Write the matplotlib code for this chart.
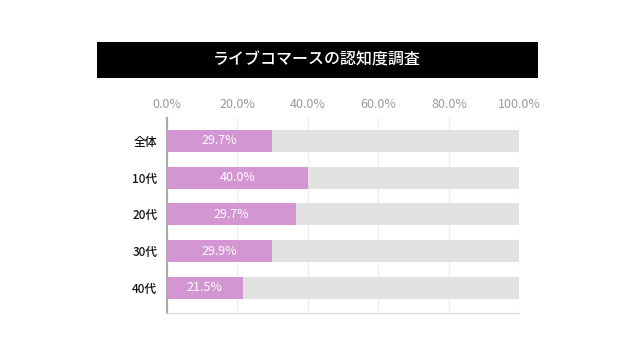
import matplotlib
matplotlib.use("Agg")
import matplotlib.pyplot as plt
from matplotlib.patches import Rectangle
from matplotlib.ticker import FuncFormatter

plt.rcParams['font.family'] = ['Noto Sans CJK JP', 'DejaVu Sans']

# data
title = "ライブコマースの認知度調査"
categories = ["全体", "10代", "20代", "30代", "40代"]
# bar lengths as drawn (20代 bar is drawn longer than its label says)
bar_values = [29.7, 40.0, 36.6, 29.9, 21.5]
bar_labels = ["29.7%", "40.0%", "29.7%", "29.9%", "21.5%"]
full_scale = [100, 100, 100, 100, 100]
x_ticks = [0, 20, 40, 60, 80, 100]

PINK = "#D396D3"
TRACK = "#E2E2E2"

fig = plt.figure(figsize=(6.4, 3.6), dpi=100)

# black title band
fig.add_artist(Rectangle((0.1516, 0.7833), 0.689, 0.1, transform=fig.transFigure,
                         facecolor="black", edgecolor="none"))
fig.text(0.4953, 0.8333, title, color="white", fontsize=11.5, fontweight="medium",
         ha="center", va="center")

ax = fig.add_axes([0.2609, 0.1306, 0.5505, 0.5417])
ypos = list(range(len(categories)))

ax.barh(ypos, full_scale, height=0.6, color=TRACK, zorder=2)
ax.barh(ypos, bar_values, height=0.6, color=PINK, zorder=3)
for y, v, lab in zip(ypos, bar_values, bar_labels):
    ax.text(v / 2, y, lab, color="white", fontsize=9, ha="center", va="center", zorder=4)

ax.set_xlim(0, 100)
ax.set_ylim(4.68, -0.62)
ax.set_yticks(ypos)
ax.set_yticklabels(categories, fontsize=8.5, color="#111111", fontweight="medium")
ax.set_xticks(x_ticks)
ax.xaxis.set_major_formatter(FuncFormatter(lambda v, p: f"{v:.1f}%"))
ax.xaxis.tick_top()
ax.tick_params(axis="x", length=0, pad=5, labelsize=9, labelcolor="#9a9a9a")
ax.tick_params(axis="y", length=0, pad=7)
ax.grid(axis="x", color="#EEEEEE", linewidth=1, zorder=1)

for s in ["top", "right"]:
    ax.spines[s].set_visible(False)
ax.spines["left"].set_color("#AAAAAA")
ax.spines["left"].set_linewidth(1.5)
ax.spines["bottom"].set_color("#DDDDDD")
ax.spines["bottom"].set_linewidth(1)

fig.savefig("out.png", dpi=100)
